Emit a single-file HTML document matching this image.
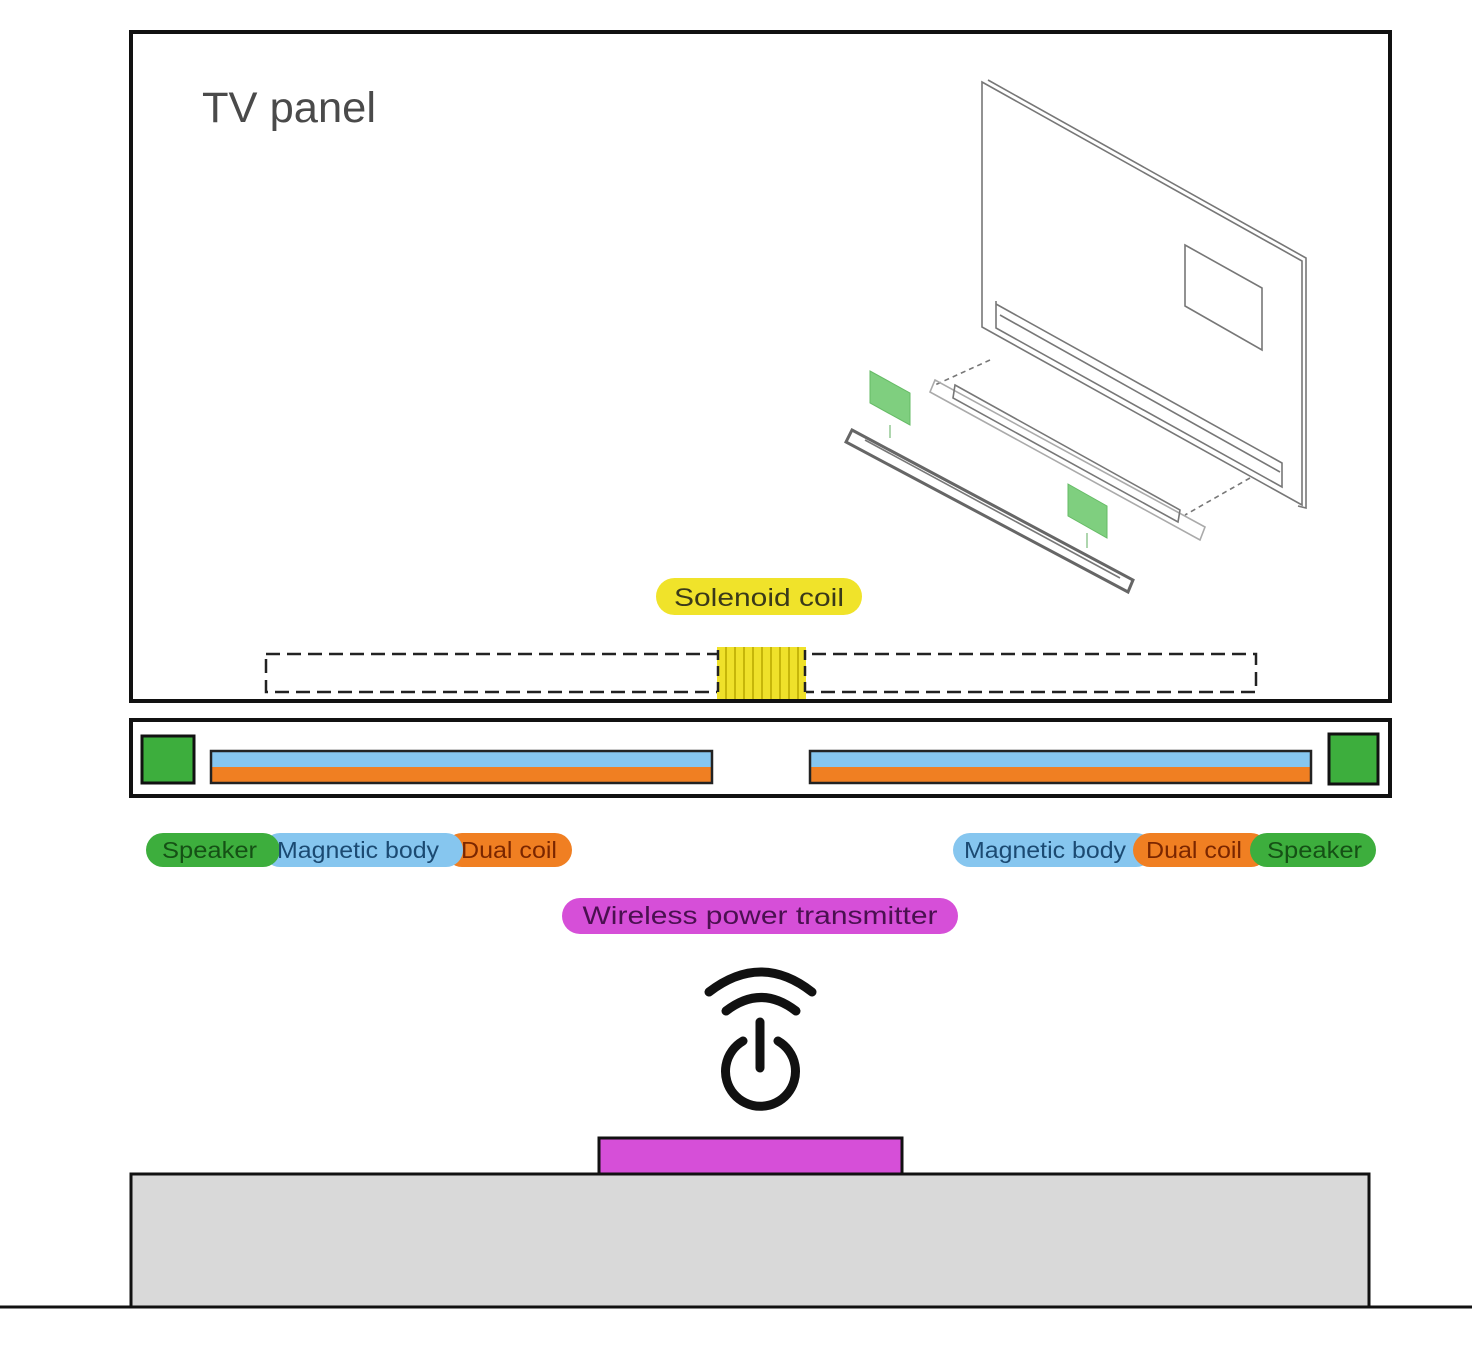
<!DOCTYPE html>
<html><head><meta charset="utf-8"><style>
html,body{margin:0;padding:0;background:#fff;}
svg{display:block;}
text{font-family:"Liberation Sans",sans-serif;}
</style></head><body>
<svg width="1472" height="1345" viewBox="0 0 1472 1345" xmlns="http://www.w3.org/2000/svg">
<rect width="1472" height="1345" fill="#fff"/>
<!-- TV panel box -->
<rect x="131" y="32" width="1259" height="669" fill="none" stroke="#111" stroke-width="4"/>
<text x="202" y="122" font-size="43" fill="#4a4a4a" textLength="174" lengthAdjust="spacingAndGlyphs">TV panel</text>

<!-- isometric illustration -->
<g fill="none" stroke="#777" stroke-width="1.6">
  <polygon points="982,82 1302,261 1302,505 982,327" fill="#fff"/>
  <polyline points="988,80 1306,258 1306,508 1298,506"/>
  <polygon points="1185,245 1262,288 1262,350 1185,306"/>
  <polyline points="996,301 996,328 1282,487 1282,463 996,304"/>
  <line x1="1000" y1="315" x2="1280" y2="472"/>
  <line x1="990" y1="360" x2="935" y2="385" stroke-dasharray="5,4"/>
  <line x1="1250" y1="478" x2="1185" y2="515" stroke-dasharray="5,4"/>
  <polygon points="935,380 1205,527 1200,540 930,392" stroke="#aaa"/>
  <polygon points="955,385 1180,510 1178,522 953,398"/>
  <polygon points="852,430 1133,580 1128,592 846,442" stroke="#666" stroke-width="3"/>
  <line x1="865" y1="440" x2="1120" y2="578"/>
  <line x1="890" y1="425" x2="890" y2="438" stroke="#9c9"/>
  <line x1="1087" y1="533" x2="1087" y2="548" stroke="#9c9"/>
</g>
<polygon points="870,371 910,393 910,425 870,403" fill="#7fcf7f" stroke="#6b6" stroke-width="1"/>
<polygon points="1068,484 1107,506 1107,538 1068,516" fill="#7fcf7f" stroke="#6b6" stroke-width="1"/>

<!-- solenoid -->
<rect x="656" y="578" width="206" height="37" rx="18.5" fill="#f0e32a"/>
<text x="759" y="606" font-size="25" fill="#3a3a1a" text-anchor="middle" textLength="170" lengthAdjust="spacingAndGlyphs">Solenoid coil</text>
<rect x="266" y="654" width="990" height="38" fill="none" stroke="#222" stroke-width="2.5" stroke-dasharray="14,7"/>
<rect x="717" y="647" width="89" height="52" fill="#efe12a"/>
<g stroke="#b8a800" stroke-width="1.5">
  <line x1="726" y1="647" x2="726" y2="699"/><line x1="735" y1="647" x2="735" y2="699"/><line x1="744" y1="647" x2="744" y2="699"/><line x1="753" y1="647" x2="753" y2="699"/><line x1="762" y1="647" x2="762" y2="699"/><line x1="771" y1="647" x2="771" y2="699"/><line x1="780" y1="647" x2="780" y2="699"/><line x1="789" y1="647" x2="789" y2="699"/><line x1="798" y1="647" x2="798" y2="699"/>
</g>
<line x1="718" y1="650" x2="718" y2="698" stroke="#222" stroke-width="2.5" stroke-dasharray="10,6"/>
<line x1="805" y1="650" x2="805" y2="698" stroke="#222" stroke-width="2.5" stroke-dasharray="10,6"/>

<!-- speaker bar -->
<rect x="131" y="720" width="1259" height="76" fill="#fff" stroke="#111" stroke-width="4"/>
<rect x="142" y="736" width="52" height="47" fill="#3dae3d" stroke="#111" stroke-width="3"/>
<rect x="1329" y="734" width="49" height="50" fill="#3dae3d" stroke="#111" stroke-width="3"/>
<rect x="211" y="751" width="501" height="16" fill="#86c6ef"/>
<rect x="211" y="767" width="501" height="16" fill="#f07f22"/>
<rect x="211" y="751" width="501" height="32" fill="none" stroke="#222" stroke-width="2.5"/>
<rect x="810" y="751" width="501" height="16" fill="#86c6ef"/>
<rect x="810" y="767" width="501" height="16" fill="#f07f22"/>
<rect x="810" y="751" width="501" height="32" fill="none" stroke="#222" stroke-width="2.5"/>

<!-- left legend -->
<rect x="445" y="833" width="127" height="34" rx="17" fill="#f07f22"/>
<rect x="263" y="833" width="200" height="34" rx="17" fill="#86c6ef"/>
<rect x="146" y="833" width="134" height="34" rx="17" fill="#3dae3d"/>
<text x="162" y="858" font-size="23" fill="#155015" textLength="95" lengthAdjust="spacingAndGlyphs">Speaker</text>
<text x="277" y="858" font-size="23" fill="#1b4a72" textLength="162" lengthAdjust="spacingAndGlyphs">Magnetic body</text>
<text x="461" y="858" font-size="23" fill="#7a2600" textLength="96" lengthAdjust="spacingAndGlyphs">Dual coil</text>

<!-- right legend -->
<rect x="953" y="833" width="200" height="34" rx="17" fill="#86c6ef"/>
<rect x="1133" y="833" width="135" height="34" rx="17" fill="#f07f22"/>
<rect x="1250" y="833" width="126" height="34" rx="17" fill="#3dae3d"/>
<text x="964" y="858" font-size="23" fill="#1b4a72" textLength="162" lengthAdjust="spacingAndGlyphs">Magnetic body</text>
<text x="1146" y="858" font-size="23" fill="#7a2600" textLength="96" lengthAdjust="spacingAndGlyphs">Dual coil</text>
<text x="1267" y="858" font-size="23" fill="#155015" textLength="95" lengthAdjust="spacingAndGlyphs">Speaker</text>

<!-- wireless -->
<rect x="562" y="898" width="396" height="36" rx="18" fill="#d64fd8"/>
<text x="760" y="924" font-size="25" fill="#4a1050" text-anchor="middle" textLength="355" lengthAdjust="spacingAndGlyphs">Wireless power transmitter</text>

<!-- icon -->
<g fill="none" stroke="#111" stroke-width="9" stroke-linecap="round">
  <path d="M709,992 Q761,952 812,992"/>
  <path d="M726,1011 Q761,984 796,1011"/>
  <line x1="760" y1="1022" x2="760" y2="1068"/>
  <path d="M743,1041 A35,35 0 1 0 778,1041"/>
</g>

<!-- base -->
<rect x="599" y="1138" width="303" height="36" fill="#d64fd8" stroke="#111" stroke-width="3"/>
<rect x="131" y="1174" width="1238" height="133" fill="#d9d9d9" stroke="#111" stroke-width="3"/>
<line x1="0" y1="1307" x2="1472" y2="1307" stroke="#111" stroke-width="3"/>
</svg>
</body></html>
